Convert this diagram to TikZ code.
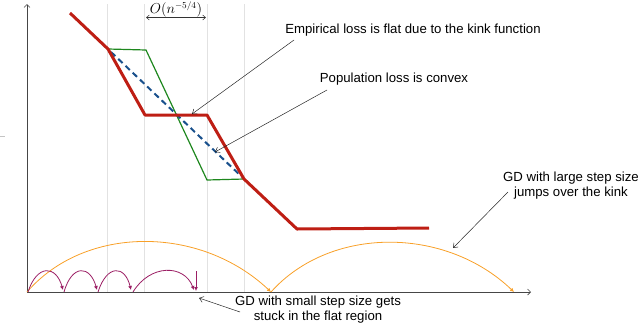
\documentclass[tikz,border=0pt]{standalone}
\usepackage{fontspec}
\setmainfont{Liberation Sans}
\usetikzlibrary{arrows.meta}
\definecolor{kred}{RGB}{190,30,20}
\definecolor{kgreen}{RGB}{30,135,30}
\definecolor{kblue}{RGB}{25,80,140}
\definecolor{korange}{RGB}{248,160,40}
\definecolor{kpurple}{RGB}{155,30,100}
\definecolor{kgrid}{RGB}{226,226,226}
\definecolor{kaxis}{RGB}{70,70,70}
\begin{document}
\begin{tikzpicture}[x=1pt,y=-1pt,
  lbl/.style={font=\fontsize{13.2}{15}\selectfont, align=center, inner sep=0pt},
  callout/.style={draw=black!85, line width=0.5pt, -{Straight Barb[length=4pt,width=6pt]}},
  gridline/.style={draw=kgrid, line width=1pt},
  axisline/.style={draw=kaxis, line width=0.7pt, -{Straight Barb[length=3pt,width=6pt]}},
  bigjump/.style={draw=korange, line width=0.8pt, -{Latex[length=4pt,width=4pt]}},
  smalljump/.style={draw=kpurple, line width=0.8pt, -{Latex[length=4pt,width=4pt]}}]
\useasboundingbox (0,0) rectangle (640,325);
% grid lines
\foreach \gx in {107,144,207,244} \draw[gridline] (\gx,4) -- (\gx,292);
% left tick
\draw[draw=kgrid!70!gray, line width=0.8pt] (0,136) -- (5,136);
% axes
\coordinate (o) at (27,292);
\coordinate (ytop) at (27,4);
\coordinate (xend) at (531,292);
\draw[axisline] (o) -- (ytop);
\draw[axisline] (o) -- (xend);
% O label
\node[inner sep=0pt, font=\fontsize{13.5}{16}\selectfont] (olab) at (176,9.5) {$O(n^{-5/4})$};
\coordinate (da) at (146,17.5);
\coordinate (db) at (206,17.5);
\draw[draw=black!80, line width=0.5pt, {Straight Barb[length=3pt,width=5pt]}-{Straight Barb[length=3pt,width=5pt]}] (da) -- (db);
% green
\draw[kgreen, line width=1.2pt] (108,49) -- (146,50) -- (207,180) -- (244,179);
% blue dashed
\draw[kblue, line width=2pt, dash pattern=on 6pt off 4pt] (111,52) -- (242,177);
% red
\draw[kred, line width=3pt, line join=round] (70,13) -- (108,49) -- (145,115) -- (207,115) -- (244,179) -- (297,229) -- (429,228);
% orange arcs
\coordinate (j0) at (27,292);
\coordinate (j1) at (271,292);
\coordinate (j2) at (514,292);
\draw[bigjump] (j0) .. controls (85,225) and (200,225) .. (j1);
\draw[bigjump] (j1) .. controls (330,226) and (445,226) .. (j2);
% purple hops
\coordinate (s0) at (28,292);
\coordinate (s1) at (63,290);
\coordinate (s1b) at (64,292);
\coordinate (s2) at (97,290);
\coordinate (s2b) at (98,292);
\coordinate (s3) at (131,290);
\coordinate (s3b) at (133,292);
\coordinate (s4) at (194,290);
\coordinate (v0) at (196,271);
\coordinate (v1) at (196,291);
\draw[smalljump] (s0) .. controls (37,264) and (56,265) .. (s1);
\draw[smalljump] (s1b) .. controls (72,264) and (90,265) .. (s2);
\draw[smalljump] (s2b) .. controls (107,264) and (125,265) .. (s3);
\draw[smalljump] (s3b) .. controls (150,264) and (184,264) .. (s4);
\draw[smalljump] (v0) -- (v1);
% labels
\node[lbl] (emp) at (413,30) {Empirical loss is flat due to the kink function};
\node[lbl] (pop) at (394,79) {Population loss is convex};
\node[lbl, anchor=east] (large) at (639,186) {GD with large step size\\jumps over the kink};
\node[lbl] (small) at (318,310) {GD with small step size gets\\stuck in the flat region};
\coordinate (empS) at (294,40);
\coordinate (empT) at (192,114);
\coordinate (popS) at (327,90);
\coordinate (popT) at (215,152);
\coordinate (larS) at (508,192);
\coordinate (larT) at (453,248);
\coordinate (smS) at (240,312);
\coordinate (smT) at (199,298);
\draw[callout] (empS) -- (empT);
\draw[callout] (popS) -- (popT);
\draw[callout] (larS) -- (larT);
\draw[callout] (smS) -- (smT);
\end{tikzpicture}
\end{document}
